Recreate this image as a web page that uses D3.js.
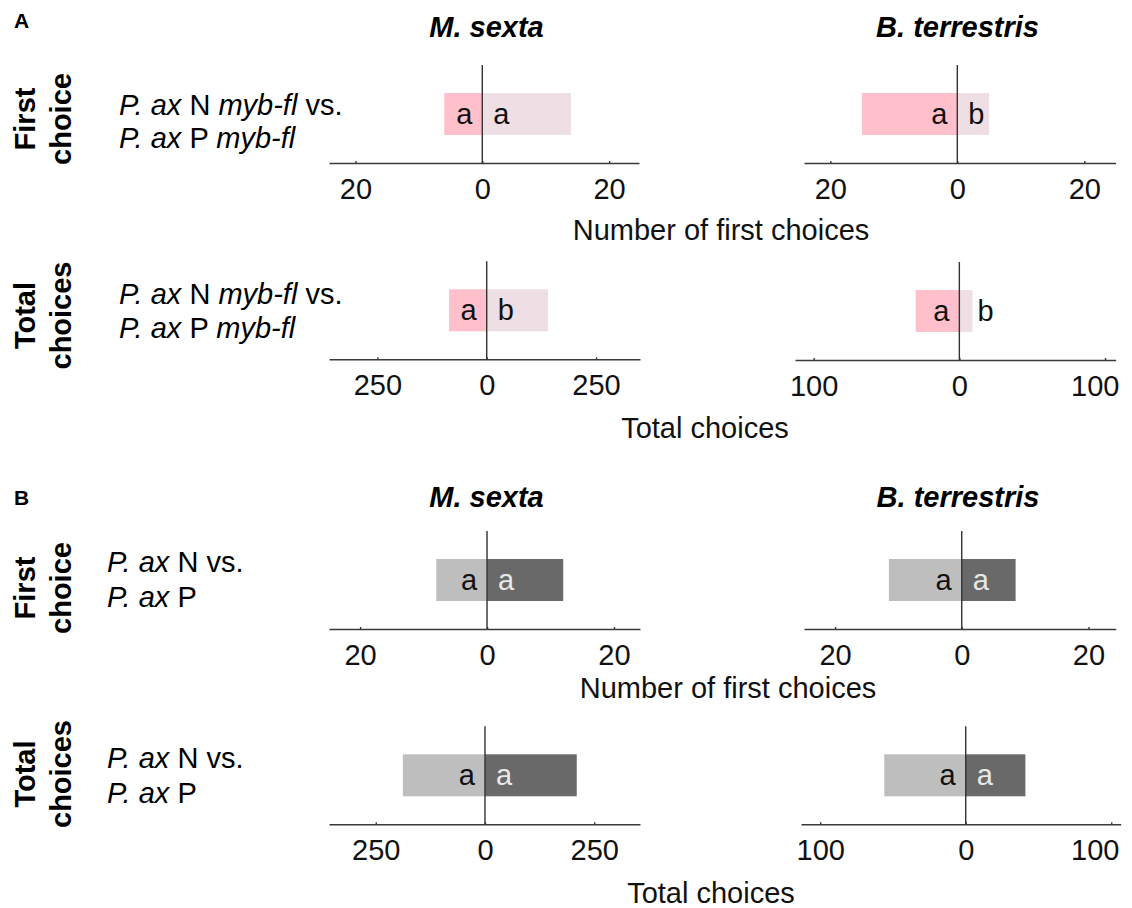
<!DOCTYPE html>
<html>
<head>
<meta charset="utf-8">
<script src="https://cdn.jsdelivr.net/npm/d3@7"></script>
<style>
  html, body { margin: 0; padding: 0; background: #fff; }
  svg { display: block; font-family: "Liberation Sans", Arial, Helvetica, sans-serif; }
  text { white-space: pre; }
</style>
</head>
<body>
<svg id="chart" width="1132" height="908"></svg>
<script>
// ---------------- DATA ----------------
const speciesNames = ["M. sexta", "B. terrestris"];
const rowNamesTop = ["First", "Total"];
const rowNamesBottom = ["choice", "choices"];
const axisTitles = ["Number of first choices", "Total choices"];

// Panel A: P. ax N myb-fl (left) vs P. ax P myb-fl (right); index = species
const aFirstN = [6, 15];
const aFirstP = [14, 5];
const aFirstLettersN = ["a", "a"];
const aFirstLettersP = ["a", "b"];
const aTotalN = [86, 30];
const aTotalP = [140, 9];
const aTotalLettersN = ["a", "a"];
const aTotalLettersP = ["b", "b"];

// Panel B: P. ax N (left) vs P. ax P (right)
const bFirstN = [8, 11.5];
const bFirstP = [12, 8.5];
const bFirstLettersN = ["a", "a"];
const bFirstLettersP = ["a", "a"];
const bTotalN = [188, 56];
const bTotalP = [210, 41];
const bTotalLettersN = ["a", "a"];
const bTotalLettersP = ["a", "a"];

// tick values
const firstTicks = [-20, 0, 20];
const totalTicksMs = [-250, 0, 250];
const totalTicksBt = [-100, 0, 100];

// ---------------- STYLE / LAYOUT ----------------
const FONT = 29;
const colorsA = { left: "#ffc0cb", right: "#eedfe4", textLeft: "#111", textRight: "#111" };
const colorsB = { left: "#bebebe", right: "#696969", textLeft: "#111", textRight: "#e8e8e8" };
const RIGHT_TEXT_LIMIT = 1119;

const svg = d3.select("#chart");

// panel geometry: pixel range and domain of each small axis
const layout = {
  A: {
    first: [
      { x0: 329, x1: 639, domain: [-24.18, 24.72], axisY: 163 },
      { x0: 804, x1: 1115.7, domain: [-24.14, 24.94], axisY: 163 }
    ],
    total: [
      { x0: 329, x1: 640, domain: [-360.7, 350.6], axisY: 359.3 },
      { x0: 795, x1: 1115.7, domain: [-112.8, 107.3], axisY: 360 }
    ]
  },
  B: {
    first: [
      { x0: 329, x1: 640, domain: [-24.9, 24.1], axisY: 629 },
      { x0: 804, x1: 1115.7, domain: [-24.9, 24.3], axisY: 629 }
    ],
    total: [
      { x0: 329, x1: 640, domain: [-357, 354.8], axisY: 824.3 },
      { x0: 801, x1: 1120.7, domain: [-113.2, 106.5], axisY: 824.3 }
    ]
  }
};

function drawPanel(cfg, nVal, pVal, nLet, pLet, colors, ticks) {
  const x = d3.scaleLinear().domain(cfg.domain).range([cfg.x0, cfg.x1]);
  const g = svg.append("g");
  const barTop = cfg.axisY - 70, barH = 42;
  const bars = [
    { v: -nVal, letter: nLet, side: "L" },
    { v: pVal, letter: pLet, side: "R" }
  ];
  g.selectAll("rect").data(bars).join("rect")
    .attr("x", d => Math.min(x(0), x(d.v)))
    .attr("width", d => Math.abs(x(d.v) - x(0)))
    .attr("y", barTop)
    .attr("height", barH)
    .attr("fill", d => d.side === "L" ? colors.left : colors.right);

  const axis = d3.axisBottom(x)
    .tickValues(ticks)
    .tickFormat(d => Math.abs(d))
    .tickSize(-2)
    .tickSizeOuter(0)
    .tickPadding(15);
  const ag = g.append("g").attr("transform", `translate(0,${cfg.axisY})`).call(axis);
  ag.select(".domain").attr("stroke", "#3a3a3a").attr("stroke-width", 1.4);
  ag.selectAll(".tick line").attr("stroke", "#3a3a3a").attr("stroke-width", 1.4);
  ag.selectAll(".tick text")
    .attr("font-size", FONT)
    .attr("font-family", "Liberation Sans, Arial, sans-serif")
    .attr("fill", "#111")
    .each(function (d) {
      // keep labels inside the figure edge
      const w = this.getComputedTextLength();
      const right = x(d) + w / 2;
      if (right > RIGHT_TEXT_LIMIT) d3.select(this).attr("dx", RIGHT_TEXT_LIMIT - right);
    });

  // zero line
  g.append("line")
    .attr("x1", x(0)).attr("x2", x(0))
    .attr("y1", cfg.axisY - 98).attr("y2", cfg.axisY)
    .attr("stroke", "#333").attr("stroke-width", 1.4);

  // significance letters
  g.selectAll("text.letter").data(bars).join("text")
    .attr("class", "letter")
    .attr("x", d => {
      if (d.side === "L") return x(0) - 10;
      const end = x(d.v);
      return (end - x(0) < 22) ? end + 5 : x(0) + 11;
    })
    .attr("y", barTop + barH / 2 + 9.5)
    .attr("text-anchor", d => d.side === "L" ? "end" : "start")
    .attr("font-size", FONT)
    .attr("fill", d => {
      if (d.side === "L") return colors.textLeft;
      return (x(d.v) - x(0) < 22) ? "#111" : colors.textRight;
    })
    .text(d => d.letter);
}

[0, 1].forEach(i => {
  drawPanel(layout.A.first[i], aFirstN[i], aFirstP[i], aFirstLettersN[i], aFirstLettersP[i], colorsA, firstTicks);
  drawPanel(layout.A.total[i], aTotalN[i], aTotalP[i], aTotalLettersN[i], aTotalLettersP[i], colorsA,
    i === 0 ? totalTicksMs : totalTicksBt);
  drawPanel(layout.B.first[i], bFirstN[i], bFirstP[i], bFirstLettersN[i], bFirstLettersP[i], colorsB, firstTicks);
  drawPanel(layout.B.total[i], bTotalN[i], bTotalP[i], bTotalLettersN[i], bTotalLettersP[i], colorsB,
    i === 0 ? totalTicksMs : totalTicksBt);
});

// Panel letters
svg.append("text").attr("x", 14).attr("y", 28).attr("font-size", 21).attr("font-weight", "bold").text("A");
svg.append("text").attr("x", 14).attr("y", 505).attr("font-size", 21).attr("font-weight", "bold").text("B");

// Species titles
const titleRows = [{ y: 37, xs: [486.5, 957.5] }, { y: 507, xs: [486.5, 958] }];
titleRows.forEach(r => {
  speciesNames.forEach((s, i) => {
    svg.append("text").attr("x", r.xs[i]).attr("y", r.y)
      .attr("text-anchor", "middle").attr("font-size", FONT)
      .attr("font-weight", "bold").attr("font-style", "italic").text(s);
  });
});

// Row labels (rotated)
const rowLabelCenters = [119, 315.5, 588, 774];
rowLabelCenters.forEach((cy, k) => {
  const r = k % 2;
  svg.append("text").attr("transform", `translate(35,${cy}) rotate(-90)`)
    .attr("text-anchor", "middle").attr("font-size", FONT).attr("font-weight", "bold")
    .text(rowNamesTop[r]);
  svg.append("text").attr("transform", `translate(71,${cy}) rotate(-90)`)
    .attr("text-anchor", "middle").attr("font-size", FONT).attr("font-weight", "bold")
    .text(rowNamesBottom[r]);
});

// Comparison labels
function compLabel(x, y1, y2, withMyb) {
  const t1 = svg.append("text").attr("x", x).attr("y", y1).attr("font-size", FONT);
  t1.append("tspan").attr("font-style", "italic").text("P. ax");
  t1.append("tspan").text(" N ");
  if (withMyb) {
    t1.append("tspan").attr("font-style", "italic").text("myb-fl");
    t1.append("tspan").text(" vs.");
  } else {
    t1.append("tspan").text("vs.");
  }
  const t2 = svg.append("text").attr("x", x).attr("y", y2).attr("font-size", FONT);
  t2.append("tspan").attr("font-style", "italic").text("P. ax");
  t2.append("tspan").text(" P");
  if (withMyb) {
    t2.append("tspan").text(" ");
    t2.append("tspan").attr("font-style", "italic").text("myb-fl");
  }
}
compLabel(119, 115, 148, true);
compLabel(119, 304, 338, true);
compLabel(107, 572, 607, false);
compLabel(107, 768, 803, false);

// Axis titles
const axisTitlePos = [
  { x: 721, y: 240, t: 0 },
  { x: 705, y: 438, t: 1 },
  { x: 728, y: 698, t: 0 },
  { x: 711, y: 903, t: 1 }
];
axisTitlePos.forEach(p => {
  svg.append("text").attr("x", p.x).attr("y", p.y).attr("text-anchor", "middle")
    .attr("font-size", FONT).attr("fill", "#111").text(axisTitles[p.t]);
});
</script>
</body>
</html>
